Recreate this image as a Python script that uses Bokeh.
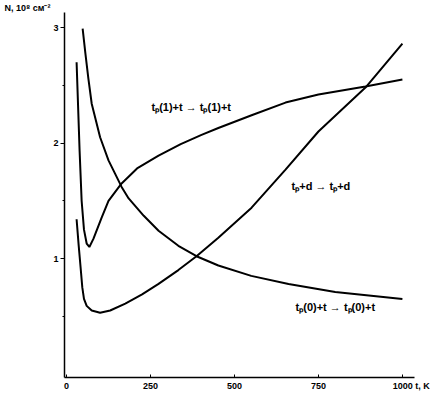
from bokeh.plotting import figure
from bokeh.models import Range1d, FixedTicker, Label, Title
from bokeh.embed import file_html
from bokeh.resources import INLINE

# Curve t_p(0)+t -> t_p(0)+t
t0 = [30, 36, 42, 47, 52, 60, 75, 100, 130, 175, 225, 274, 333, 387, 452, 551, 652, 750, 890, 1000]
v0 = [1.34, 1.12, 0.92, 0.75, 0.65, 0.59, 0.55, 0.53, 0.55, 0.61, 0.69, 0.78, 0.90, 1.02, 1.18, 1.44, 1.77, 2.10, 2.48, 2.86]

# Curve t_p(1)+t -> t_p(1)+t
t1 = [30, 39, 45, 52, 60, 68, 80, 104, 125, 164, 210, 274, 340, 402, 452, 551, 652, 750, 890, 1000]
v1 = [2.70, 1.93, 1.50, 1.25, 1.13, 1.10, 1.17, 1.35, 1.50, 1.65, 1.78, 1.89, 1.99, 2.07, 2.13, 2.24, 2.35, 2.42, 2.49, 2.55]

# Curve t_p+d -> t_p+d
td = [48, 56, 65, 75, 100, 125, 164, 185, 230, 274, 333, 387, 452, 550, 661, 800, 900, 1000]
vd = [2.99, 2.78, 2.56, 2.34, 2.05, 1.85, 1.62, 1.52, 1.37, 1.24, 1.11, 1.02, 0.94, 0.85, 0.78, 0.71, 0.68, 0.65]

x_ticks = [0, 250, 500, 750, 1000]
y_ticks = [1, 2, 3]
y_minor = [0.5, 1.5, 2.5]

labels = ["tₚ(1)+t → tₚ(1)+t", "tₚ+d → tₚ+d", "tₚ(0)+t → tₚ(0)+t"]
y_title = "N, 10⁸ см⁻²"
x_title = "t, K"

FONT = "Liberation Sans"
NB = "\u00a0"

W, H = 430, 393
p = figure(width=W, height=H, x_range=Range1d(-6, 1036), y_range=Range1d(-0.03, 3.13),
           output_backend="svg", toolbar_location=None,
           min_border_left=64, min_border_right=16, min_border_top=10, min_border_bottom=16)
p.outline_line_color = None
p.xgrid.visible = False
p.ygrid.visible = False
p.background_fill_color = "white"

for ax in (p.xaxis[0], p.yaxis[0]):
    ax.axis_line_color = "black"
    ax.axis_line_width = 1.5
    ax.major_tick_line_color = "black"
    ax.minor_tick_line_color = "black"
    ax.major_label_text_font = FONT
    ax.major_label_text_font_style = "bold"
    ax.major_label_text_font_size = "9px"
    ax.major_label_text_color = "black"

p.xaxis.ticker = FixedTicker(ticks=x_ticks)
p.xaxis.major_label_overrides = {x_ticks[-1]: NB * 7 + str(x_ticks[-1]) + " " + x_title}
p.xaxis.major_tick_in = 3
p.xaxis.major_tick_out = 0
p.xaxis.minor_tick_in = 0
p.xaxis.minor_tick_out = 0
p.xaxis.major_label_standoff = 3

p.yaxis.ticker = FixedTicker(ticks=y_ticks, minor_ticks=y_minor)
p.yaxis.major_tick_in = 0
p.yaxis.major_tick_out = 4
p.yaxis.minor_tick_in = 0
p.yaxis.minor_tick_out = 2
p.yaxis.major_label_standoff = 2

for tt, vv in ((t0, v0), (t1, v1), (td, vd)):
    p.line(tt, vv, line_color="black", line_width=2)

lab_pos = [(253, 2.31), (670, 1.63), (682, 0.58)]
for txt, (lx, ly) in zip(labels, lab_pos):
    p.add_layout(Label(x=lx, y=ly, text=txt, text_font=FONT, text_font_style="bold",
                       text_font_size="11px", text_baseline="middle", text_align="left",
                       text_color="black"))

p.add_layout(Title(text=y_title, align="left", offset=-60, standoff=0,
                   text_font=FONT, text_font_style="bold", text_font_size="9px",
                   text_color="black"), "above")

open("out.html", "w").write(file_html(p, INLINE))
